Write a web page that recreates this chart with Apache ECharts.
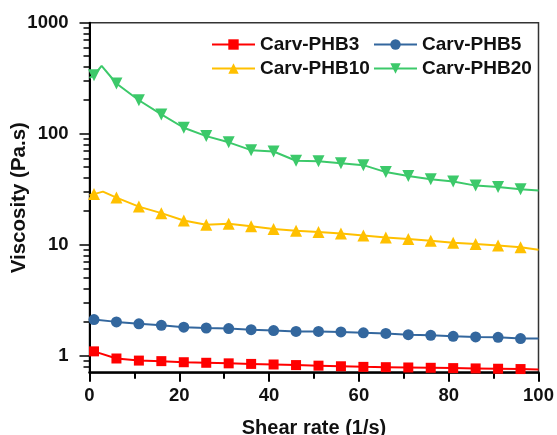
<!DOCTYPE html>
<html>
<head>
<meta charset="utf-8">
<script src="https://cdn.jsdelivr.net/npm/echarts@6/dist/echarts.min.js"></script>
<style>
  html, body { margin: 0; padding: 0; background: #fff; }
  #chart { width: 557px; height: 435px; }
</style>
</head>
<body>
<div id="chart"></div>
<script>
// Shear rates at which markers are drawn (1/s)
var shearRate = [1, 6, 11, 16, 21, 26, 31, 36, 41, 46, 51, 56, 61, 66, 71, 76, 81, 86, 91, 96];

// Viscosity (Pa.s) at marker points
var phb3  = [1.09, 0.94, 0.90, 0.89, 0.87, 0.86, 0.85, 0.84, 0.83, 0.82, 0.81, 0.80, 0.79, 0.785, 0.78, 0.775, 0.77, 0.765, 0.76, 0.755];
var phb5  = [2.11, 2.01, 1.93, 1.87, 1.80, 1.77, 1.75, 1.71, 1.68, 1.65, 1.65, 1.63, 1.60, 1.58, 1.54, 1.52, 1.49, 1.47, 1.46, 1.42];
var phb10 = [28.5, 26.5, 22.0, 19.2, 16.5, 15.1, 15.4, 14.6, 13.8, 13.3, 13.0, 12.6, 12.1, 11.6, 11.2, 10.8, 10.4, 10.1, 9.8, 9.45];
var phb20 = [336, 283, 200, 149, 113, 95, 83.5, 71, 69, 57, 56.5, 54, 52, 45, 41.6, 38.8, 37, 34, 33, 31.6];

// Extra points of the measured curve that carry no marker [shear rate, viscosity]
var phb3Trace  = [[0, 1.1], [100, 0.75]];
var phb5Trace  = [[0, 2.12], [100, 1.42]];
var phb10Trace = [[0, 28], [3, 30], [100, 9.0]];
var phb20Trace = [[0, 318], [2.7, 408], [100, 30.7]];

var seriesNames = ['Carv-PHB3', 'Carv-PHB5', 'Carv-PHB10', 'Carv-PHB20'];

// Axis ticks
var xTicks = [0, 20, 40, 60, 80, 100];
var yMajorTicks = [1, 10, 100, 1000];
var yMinorTicks = [0.8, 0.9, 2, 3, 4, 5, 6, 7, 8, 9, 20, 30, 40, 50, 60, 70, 80, 90, 200, 300, 400, 500, 600, 700, 800, 900];

function buildData(values, trace) {
  var pts = shearRate.map(function (x, i) { return { value: [x, values[i]] }; });
  trace.forEach(function (p) { pts.push({ value: [p[0], p[1]], symbol: 'none' }); });
  pts.sort(function (a, b) { return a.value[0] - b.value[0]; });
  return pts;
}

var FONT = '"Liberation Sans", Arial, sans-serif';
var chart = echarts.init(document.getElementById('chart'), null, { renderer: 'canvas' });

var styles = [
  { color: '#ff0000', symbol: 'rect', size: 10, rotate: 0 },
  { color: '#33679e', symbol: 'circle', size: 11, rotate: 0 },
  { color: '#ffc000', symbol: 'triangle', size: 12, rotate: 0 },
  { color: '#3cc96a', symbol: 'triangle', size: 12, rotate: 180 }
];
var dataSets = [
  buildData(phb3, phb3Trace),
  buildData(phb5, phb5Trace),
  buildData(phb10, phb10Trace),
  buildData(phb20, phb20Trace)
];

var legendCommon = {
  orient: 'vertical',
  top: 35,
  padding: 0,
  itemGap: 5,
  itemWidth: 43,
  itemHeight: 13,
  textStyle: { fontSize: 19, fontWeight: 'bold', color: '#111', fontFamily: FONT }
};

var option = {
  backgroundColor: '#fff',
  animation: false,
  textStyle: { fontFamily: FONT },
  legend: [
    Object.assign({ left: 211, data: [seriesNames[0], seriesNames[2]] }, legendCommon),
    Object.assign({ left: 373, data: [seriesNames[1], seriesNames[3]] }, legendCommon)
  ],
  grid: [
    { left: 89.5, right: 18.5, top: 22.7, bottom: 62.3, show: true, borderColor: '#333', borderWidth: 1.5, containLabel: false, outerBoundsMode: 'none' },
    { left: 89.5, right: 18.5, top: 22.7, bottom: 62.3, show: false, containLabel: false, outerBoundsMode: 'none' }
  ],
  xAxis: [
    {
      type: 'value', gridIndex: 0, min: xTicks[0], max: xTicks[xTicks.length - 1], interval: 20,
      name: 'Shear rate (1/s)', nameLocation: 'middle', nameGap: 46,
      nameTextStyle: { fontSize: 20, fontWeight: 'bold', color: '#111', fontFamily: FONT },
      axisLine: { show: true, lineStyle: { color: '#000', width: 2.5 } },
      axisTick: { show: true, inside: false, length: 9, lineStyle: { color: '#000', width: 2 } },
      minorTick: { show: true, splitNumber: 2, length: 6, lineStyle: { color: '#000', width: 2 } },
      axisLabel: { margin: 14, fontSize: 18.5, fontWeight: 'bold', color: '#111', fontFamily: FONT },
      splitLine: { show: false }
    },
    { type: 'value', gridIndex: 1, min: 0, max: 100, show: false }
  ],
  yAxis: [
    {
      type: 'log', logBase: 10, gridIndex: 0, min: 0.7, max: 1000,
      name: 'Viscosity (Pa.s)', nameLocation: 'middle', nameGap: 60, nameRotate: 90, nameMoveOverlap: false,
      nameTextStyle: { fontSize: 20.5, fontWeight: 'bold', color: '#111', fontFamily: FONT },
      axisLine: { show: true, lineStyle: { color: '#000', width: 2 } },
      axisTick: { show: true, inside: false, length: 10, customValues: yMajorTicks, lineStyle: { color: '#000', width: 1.5 } },
      axisLabel: {
        margin: 21, fontSize: 18.5, fontWeight: 'bold', color: '#111', fontFamily: FONT, customValues: yMajorTicks,
        formatter: function (v) { return String(Math.round(v)); }
      },
      splitLine: { show: false }
    },
    {
      type: 'log', logBase: 10, gridIndex: 1, min: 0.7, max: 1000,
      axisLine: { show: false },
      axisTick: { show: true, inside: false, length: 6, customValues: yMinorTicks, lineStyle: { color: '#000', width: 1.5 } },
      axisLabel: { show: false },
      splitLine: { show: false }
    }
  ],
  series: seriesNames.map(function (name, i) {
    var s = styles[i];
    return {
      name: name,
      type: 'line',
      xAxisIndex: 0,
      yAxisIndex: 0,
      data: dataSets[i],
      symbol: s.symbol,
      symbolSize: s.size,
      symbolRotate: s.rotate,
      showAllSymbol: true,
      color: s.color,
      lineStyle: { color: s.color, width: 2 },
      itemStyle: { color: s.color },
      z: 2 + i
    };
  })
};

chart.setOption(option);
</script>
</body>
</html>
